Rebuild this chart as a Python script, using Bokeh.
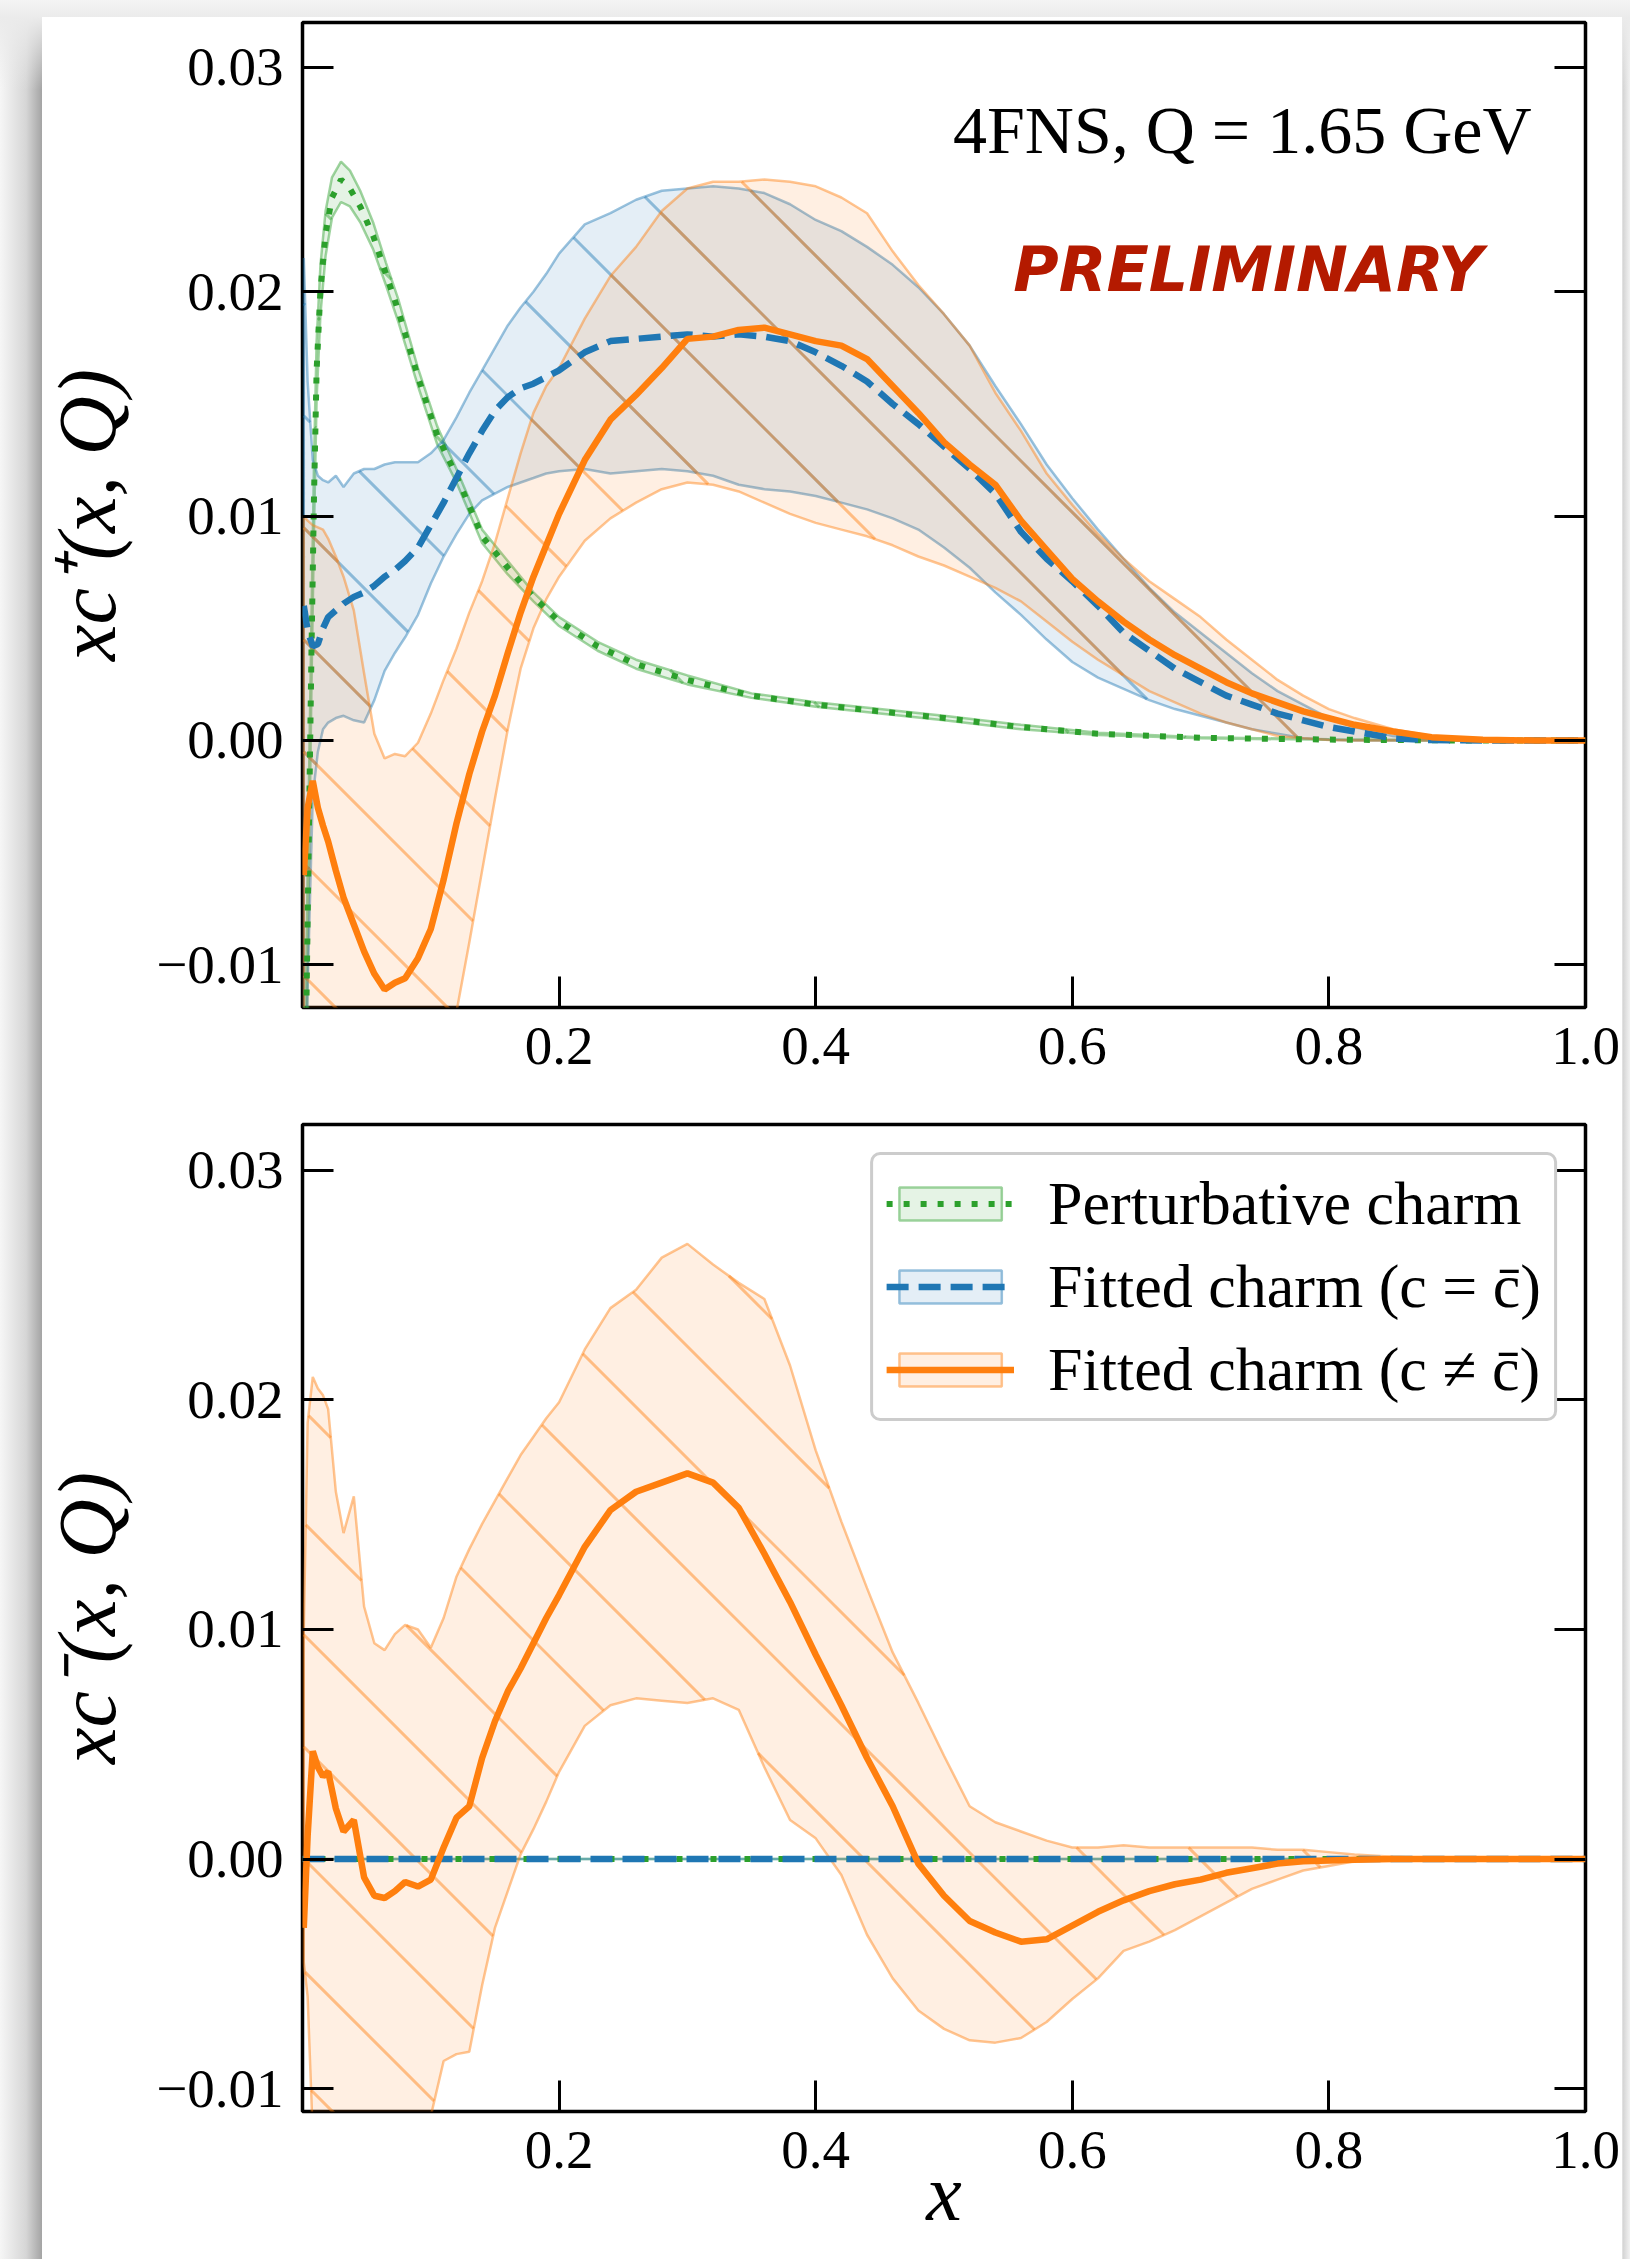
import numpy as np
from bokeh.plotting import figure
from bokeh.models import (Range1d, LinearAxis, FixedTicker, CustomJSTickFormatter,
                          Label, Legend, LegendItem)
from bokeh.layouts import column
from bokeh.embed import file_html
from bokeh.resources import INLINE

# ---------------- data ----------------
X_TICKS = [0.2, 0.4, 0.6, 0.8, 1.0]
Y_TICKS = [-0.01, 0.0, 0.01, 0.02, 0.03]

x_pert = [0.001, 0.003, 0.005, 0.007, 0.009, 0.011, 0.014, 0.018, 0.023, 0.03,
          0.037, 0.045, 0.055, 0.065, 0.075, 0.09, 0.105, 0.12, 0.14, 0.16,
          0.18, 0.2, 0.23, 0.26, 0.3, 0.35, 0.4, 0.45, 0.5, 0.56,
          0.62, 0.7, 0.8, 0.9, 1.0]
pert_cen = [-0.025, -0.012, -0.004, 0.004, 0.011, 0.0165, 0.0201, 0.0226, 0.0242, 0.0250,
            0.0246, 0.0238, 0.0225, 0.0208, 0.0191, 0.0162, 0.0136, 0.0118, 0.0091, 0.0077,
            0.0064, 0.0053, 0.0042, 0.0034, 0.0027, 0.0020, 0.0016, 0.0013, 0.0010, 0.0006,
            0.0003, 0.00012, 0.00004, 0.0, 0.0]
pert_hi = [-0.023, -0.010, -0.002, 0.0055, 0.0125, 0.0178, 0.0212, 0.0236, 0.0251, 0.0258,
           0.0254, 0.0245, 0.0231, 0.0213, 0.0196, 0.0166, 0.0140, 0.0121, 0.0094, 0.0080,
           0.0066, 0.0055, 0.0044, 0.0036, 0.0029, 0.0021, 0.0017, 0.0014, 0.0011, 0.0007,
           0.00035, 0.00015, 0.00005, 0.00001, 0.0]
pert_lo = [-0.027, -0.014, -0.006, 0.0025, 0.0095, 0.0152, 0.0190, 0.0216, 0.0233, 0.0240,
           0.0238, 0.0231, 0.0219, 0.0203, 0.0186, 0.0158, 0.0132, 0.0115, 0.0088, 0.0074,
           0.0062, 0.0051, 0.0040, 0.0032, 0.0025, 0.0019, 0.0015, 0.0012, 0.0009, 0.0005,
           0.00025, 0.0001, 0.00003, 0.0, 0.0]

x_fit = [0.001, 0.004, 0.008, 0.012, 0.016, 0.02,
         0.026, 0.032, 0.04, 0.048, 0.056, 0.064, 0.072, 0.08,
         0.09, 0.1, 0.11, 0.12, 0.13, 0.14, 0.15, 0.16, 0.17, 0.18, 0.19, 0.2,
         0.22, 0.24, 0.26, 0.28, 0.3, 0.32, 0.34, 0.36, 0.38, 0.4,
         0.42, 0.44, 0.46, 0.48, 0.5, 0.52, 0.54, 0.56, 0.58, 0.6,
         0.62, 0.64, 0.66, 0.68, 0.7, 0.72, 0.74, 0.76, 0.78, 0.8, 0.82,
         0.85, 0.88, 0.92, 0.96, 1.0]

# fitted charm, c = cbar  (xc+)
blue_cen = [0.0060, 0.0049, 0.0042, 0.0043, 0.0050, 0.0055,
            0.0058, 0.0061, 0.0064, 0.0066, 0.0069, 0.0073, 0.0076, 0.0080,
            0.0086, 0.0096, 0.0106, 0.0117, 0.0128, 0.0138, 0.0147, 0.0153, 0.0157, 0.0159, 0.0162, 0.0165,
            0.0173, 0.0178, 0.0179, 0.0180, 0.0181, 0.0180, 0.0181, 0.0180, 0.0178, 0.0173,
            0.0167, 0.0160, 0.0150, 0.0141, 0.0131, 0.0121, 0.0110, 0.0093, 0.0081, 0.0071,
            0.0060, 0.0048, 0.0040, 0.0032, 0.0026, 0.0020, 0.0016, 0.0012, 0.0009, 0.0006, 0.0004,
            0.0001, 0.00002, 0.0, 0.0, 0.0]
blue_hi = [0.0215, 0.0160, 0.0125, 0.0118, 0.0116, 0.0115,
           0.0118, 0.0113, 0.0119, 0.0121, 0.0121, 0.0123, 0.0124, 0.0124,
           0.0124, 0.0128, 0.0134, 0.0144, 0.0155, 0.0165, 0.0175, 0.0185, 0.0193, 0.0200, 0.0208, 0.0217,
           0.0230, 0.0235, 0.0241, 0.0245, 0.0246, 0.0247, 0.0246, 0.0244, 0.0239, 0.0232,
           0.0227, 0.0220, 0.0212, 0.0202, 0.0190, 0.0176, 0.0158, 0.0141, 0.0123, 0.0108,
           0.0094, 0.0081, 0.0068, 0.0057, 0.0048, 0.0039, 0.0030, 0.0022, 0.0016, 0.0010, 0.0006,
           0.0002, 0.00005, 0.0, 0.0, 0.0]
blue_lo = [-0.022, -0.011, -0.0025, -0.0005, 0.0005, 0.0008,
           0.0010, 0.0011, 0.0009, 0.0008, 0.0018, 0.0031, 0.0039, 0.0046,
           0.0056, 0.0070, 0.0082, 0.0092, 0.0101, 0.0107, 0.0110, 0.0113, 0.0115, 0.0117, 0.0119, 0.0120,
           0.0121, 0.0119, 0.0120, 0.0121, 0.0120, 0.0118, 0.0114, 0.0112, 0.0111, 0.0109,
           0.0106, 0.0103, 0.0099, 0.0094, 0.0086, 0.0077, 0.0066, 0.0056, 0.0045, 0.0035,
           0.0028, 0.0023, 0.0018, 0.0014, 0.0011, 0.0008, 0.0005, 0.0003, 0.0001, 0.00003, 0.0,
           0.0, 0.0, 0.0, 0.0, 0.0]

# fitted charm, c != cbar  (xc+)
orange_cen = [-0.0060, -0.0030, -0.0018, -0.0030, -0.0038, -0.0045,
              -0.0058, -0.0070, -0.0082, -0.0094, -0.0104, -0.0111, -0.0108, -0.0106,
              -0.0097, -0.0084, -0.0062, -0.0037, -0.0015, 0.0004, 0.0020, 0.0039, 0.0057, 0.0073, 0.0087, 0.0101,
              0.0125, 0.0143, 0.0154, 0.0166, 0.0179, 0.0180, 0.0183, 0.0184, 0.0181, 0.0178,
              0.0176, 0.0170, 0.0158, 0.0146, 0.0133, 0.0123, 0.0114, 0.0098, 0.0085, 0.0072,
              0.0062, 0.0053, 0.0045, 0.0038, 0.0032, 0.0026, 0.0021, 0.0017, 0.0013, 0.0010, 0.0007,
              0.0004, 0.00015, 0.00003, 0.0, 0.0]
orange_hi = [0.0100, 0.0098, 0.0096, 0.0095, 0.0094, 0.0090,
             0.0082, 0.0073, 0.0058, 0.0030, 0.0003, -0.0008, -0.0006, -0.0007,
             -0.0001, 0.0012, 0.0027, 0.0041, 0.0057, 0.0071, 0.0088, 0.0108, 0.0128, 0.0146, 0.0158, 0.0166,
             0.0188, 0.0207, 0.0220, 0.0236, 0.0246, 0.0249, 0.0249, 0.0250, 0.0249, 0.0247,
             0.0242, 0.0235, 0.0218, 0.0203, 0.0190, 0.0176, 0.0155, 0.0138, 0.0119, 0.0105,
             0.0092, 0.0081, 0.0071, 0.0063, 0.0055, 0.0045, 0.0036, 0.0027, 0.0020, 0.0014, 0.0010,
             0.0005, 0.0002, 0.00004, 0.0, 0.0]
orange_lo = [-0.030, -0.030, -0.030, -0.030, -0.030, -0.030,
             -0.030, -0.030, -0.030, -0.029, -0.028, -0.027, -0.026, -0.025,
             -0.022, -0.019, -0.0152, -0.0121, -0.0090, -0.0058, -0.0026, 0.0005, 0.0032, 0.0050, 0.0063, 0.0073,
             0.0089, 0.0099, 0.0106, 0.0112, 0.0115, 0.0114, 0.0111, 0.0106, 0.0101, 0.0097,
             0.0094, 0.0091, 0.0087, 0.0082, 0.0078, 0.0073, 0.0068, 0.0062, 0.0053, 0.0044,
             0.0036, 0.0029, 0.0022, 0.0017, 0.0012, 0.0008, 0.0005, 0.0002, 0.0001, 0.00002, 0.0,
             0.0, 0.0, 0.0, 0.0, 0.0]

# fitted charm, c != cbar  (xc-)
minus_cen = [-0.0030, 0.0010, 0.0047, 0.0040, 0.0036, 0.0038,
             0.0022, 0.0012, 0.0017, -0.0008, -0.0016, -0.0017, -0.0014, -0.0010,
             -0.0012, -0.0009, 0.0005, 0.0018, 0.0023, 0.0044, 0.0060, 0.0073, 0.0083, 0.0094, 0.0105, 0.0115,
             0.0136, 0.0152, 0.0160, 0.0164, 0.0168, 0.0164, 0.0153, 0.0133, 0.0112, 0.0089,
             0.0067, 0.0044, 0.0023, -0.0002, -0.0016, -0.0027, -0.0032, -0.0036, -0.0035, -0.0029,
             -0.0023, -0.0018, -0.0014, -0.0011, -0.0009, -0.0006, -0.0004, -0.0002, -0.0001, -0.00006, -0.00003,
             0.0, 0.0, 0.0, 0.0, 0.0]
minus_hi = [0.0100, 0.0190, 0.0210, 0.0205, 0.0202, 0.0196,
            0.0160, 0.0142, 0.0158, 0.0110, 0.0094, 0.0091, 0.0098, 0.0102,
            0.0100, 0.0092, 0.0105, 0.0123, 0.0135, 0.0146, 0.0156, 0.0166, 0.0176, 0.0184, 0.0192, 0.0199,
            0.0222, 0.0240, 0.0248, 0.0262, 0.0268, 0.0259, 0.0251, 0.0244, 0.0215, 0.0178,
            0.0147, 0.0118, 0.0090, 0.0068, 0.0045, 0.0023, 0.0016, 0.0012, 0.0008, 0.0005,
            0.0005, 0.0006, 0.0005, 0.0005, 0.0005, 0.0005, 0.0005, 0.0004, 0.0004, 0.0003, 0.0002,
            0.0001, 0.00003, 0.0, 0.0, 0.0]
minus_lo = [-0.0045, -0.0060, -0.0120, -0.0200, -0.0250, -0.0280,
            -0.030, -0.030, -0.030, -0.030, -0.029, -0.027, -0.025, -0.022,
            -0.017, -0.0112, -0.0088, -0.0085, -0.0084, -0.0055, -0.0030, -0.0014, 0.0002, 0.0013, 0.0025, 0.0038,
            0.0058, 0.0067, 0.0070, 0.0069, 0.0068, 0.0070, 0.0065, 0.0040, 0.0017, 0.0009,
            -0.0007, -0.0033, -0.0052, -0.0066, -0.0074, -0.0079, -0.0080, -0.0078, -0.0071, -0.0061,
            -0.0052, -0.0040, -0.0036, -0.0031, -0.0025, -0.0019, -0.0013, -0.0009, -0.0005, -0.0003, -0.0001,
            -0.00003, 0.0, 0.0, 0.0, 0.0]

# perturbative charm and c = cbar have xc- identically zero
x_zero = [0.0, 1.0]
zero_vals = [0.0, 0.0]

LABELS = ["Perturbative charm", "Fitted charm (c = c\u0304)", "Fitted charm (c \u2260 c\u0304)"]

# ---------------- styling ----------------
GREEN, BLUE, ORANGE = "#2ca02c", "#1f77b4", "#ff7f0e"
SERIF = "Liberation Serif"
FRAME_LEFT, FRAME_WIDTH = 302, 1283       # frame placement on the canvas (px)
HATCH_SPACING = 112                        # px between 45-degree hatch lines
FRAME_GEOM = {}                            # figure id -> (top px, height px, y0, y1)


def make_fig(height, y_start, min_top, min_bottom, ylabel):
    p = figure(width=1630, height=height, x_range=Range1d(0, 1), y_range=Range1d(y_start, 0.032),
               output_backend="svg", toolbar_location=None,
               min_border_left=FRAME_LEFT, min_border_right=1630 - FRAME_LEFT - FRAME_WIDTH,
               min_border_top=min_top, min_border_bottom=min_bottom)
    p.title.visible = False
    p.border_fill_color = None
    p.background_fill_color = "white"
    p.outline_line_color = "black"
    p.outline_line_width = 3.5
    p.grid.visible = False

    p.xaxis.ticker = FixedTicker(ticks=X_TICKS)
    p.xaxis.formatter = CustomJSTickFormatter(code="return tick.toFixed(1);")
    p.xaxis.major_label_standoff = 20
    p.yaxis.ticker = FixedTicker(ticks=Y_TICKS)
    p.yaxis.formatter = CustomJSTickFormatter(
        code="return (tick < -1e-9 ? '\u2212' : '') + Math.abs(tick).toFixed(2);")
    p.yaxis.major_label_standoff = 19
    p.yaxis.axis_label = ylabel
    p.yaxis.axis_label_standoff = 20
    p.yaxis.axis_label_text_font = SERIF
    p.yaxis.axis_label_text_font_style = "italic"
    p.yaxis.axis_label_text_font_size = "82px"
    p.yaxis.axis_label_text_color = "black"
    for ax in (p.xaxis[0], p.yaxis[0]):
        ax.axis_line_color = None
        ax.major_tick_in = 31
        ax.major_tick_out = 0
        ax.major_tick_line_width = 3
        ax.major_tick_line_color = "black"
        ax.minor_tick_line_color = None
        ax.major_label_text_font = SERIF
        ax.major_label_text_font_size = "55px"
        ax.major_label_text_color = "black"
    right = LinearAxis(ticker=FixedTicker(ticks=Y_TICKS), axis_line_color=None,
                       major_tick_in=31, major_tick_out=0, major_tick_line_width=3,
                       major_tick_line_color="black", minor_tick_line_color=None,
                       formatter=CustomJSTickFormatter(code="return '';"),
                       major_label_standoff=0)
    p.add_layout(right, "right")
    FRAME_GEOM[p.id] = (min_top, height - min_top - min_bottom, y_start, 0.032)
    return p


def hatch_segments(p, xs, lo, hi):
    """45-degree '\\' hatch lines (fixed screen spacing) clipped to the band lo..hi."""
    top, fh, y0, y1 = FRAME_GEOM[p.id]
    k = fh / (y1 - y0)                       # px per data unit (y)
    xf = np.linspace(xs[0], xs[-1], 5000)
    lof = np.interp(xf, xs, lo)
    hif = np.interp(xf, xs, hi)
    px = FRAME_LEFT + xf * FRAME_WIDTH
    seg_x, seg_y = [], []
    cmin = top - (FRAME_LEFT + FRAME_WIDTH) - HATCH_SPACING
    cmax = top + fh - FRAME_LEFT + HATCH_SPACING
    c = np.floor(cmin / HATCH_SPACING) * HATCH_SPACING
    while c <= cmax:
        py = px + c
        yl = y1 - (py - top) / k
        inside = (yl >= lof) & (yl <= hif)
        edges = np.flatnonzero(np.diff(np.concatenate([[0], inside.astype(int), [0]])))
        for a, b in zip(edges[::2], edges[1::2]):
            if b - a >= 2:
                seg_x.append([float(xf[a]), float(xf[b - 1])])
                seg_y.append([float(yl[a]), float(yl[b - 1])])
        c += HATCH_SPACING
    return seg_x, seg_y


def band(p, xs, lo, hi, color):
    r = p.patch(x=list(xs) + list(xs)[::-1], y=list(hi) + list(lo)[::-1],
                fill_color=color, fill_alpha=0.12,
                line_color=color, line_alpha=0.45, line_width=2.5)
    sx, sy = hatch_segments(p, xs, lo, hi)
    if sx:
        p.multi_line(sx, sy, line_color=color, line_alpha=0.45, line_width=3)
    # legend-only swatch carrying a hatch mark
    sw = p.patch(x=[], y=[], fill_alpha=0, line_alpha=0,
                 hatch_pattern="\\", hatch_color=color, hatch_alpha=0.45,
                 hatch_scale=224, hatch_weight=3)
    return r, sw


def lines(p, xg, yg, xb, yb, xo, yo):
    lg = p.line(xg, yg, line_color=GREEN, line_width=6, line_dash="6 11")
    lb = p.line(xb, yb, line_color=BLUE, line_width=6.5, line_dash="22 10")
    lo_ = p.line(xo, yo, line_color=ORANGE, line_width=6.5)
    return lg, lb, lo_


# ---------------- top panel: xc+ ----------------
p1 = make_fig(1107, -0.0119, 22, 100, "xc\u207a(x, Q)")
band(p1, x_pert, pert_lo, pert_hi, GREEN)
band(p1, x_fit, blue_lo, blue_hi, BLUE)
band(p1, x_fit, orange_lo, orange_hi, ORANGE)
lines(p1, x_pert, pert_cen, x_fit, blue_cen, x_fit, orange_cen)

p1.add_layout(Label(x=0.958, y=0.0272, text="4FNS, Q = 1.65 GeV", text_align="right",
                    text_baseline="alphabetic", text_font=SERIF, text_font_size="68px",
                    text_color="black"))
p1.add_layout(Label(x=0.737, y=0.0210, text="PRELIMINARY", text_align="center",
                    text_baseline="alphabetic", text_font="DejaVu Sans",
                    text_font_style="bold italic", text_font_size="62px",
                    text_color="#b41a00"))

# ---------------- bottom panel: xc- ----------------
p2 = make_fig(1152, -0.011, 17, 148, "xc\u207b(x, Q)")
gb, gsw = band(p2, x_zero, zero_vals, zero_vals, GREEN)
bb, bsw = band(p2, x_zero, zero_vals, zero_vals, BLUE)
ob, osw = band(p2, x_fit, minus_lo, minus_hi, ORANGE)
gl, bl, ol = lines(p2, x_zero, zero_vals, x_zero, zero_vals, x_fit, minus_cen)

p2.xaxis.axis_label = "x"
p2.xaxis.axis_label_text_font = SERIF
p2.xaxis.axis_label_text_font_style = "italic"
p2.xaxis.axis_label_text_font_size = "80px"
p2.xaxis.axis_label_text_color = "black"
p2.xaxis.axis_label_standoff = -22

legend = Legend(items=[LegendItem(label=LABELS[0], renderers=[gb, gsw, gl]),
                       LegendItem(label=LABELS[1], renderers=[bb, bsw, bl]),
                       LegendItem(label=LABELS[2], renderers=[ob, osw, ol])],
                location="top_right")
legend.label_text_font = SERIF
legend.label_text_font_size = "62px"
legend.label_text_color = "black"
legend.glyph_width = 128
legend.glyph_height = 41
legend.label_height = 41
legend.label_standoff = 34
legend.padding = 13
legend.spacing = 12
legend.margin = 28
legend.border_line_color = "#cccccc"
legend.border_line_width = 3
legend.border_line_alpha = 1.0
legend.background_fill_color = "white"
legend.background_fill_alpha = 0.8
if "border_radius" in Legend.properties():
    legend.border_radius = 10
p2.add_layout(legend)

page_bg = {
    "background-color": "#ffffff",
    "background-image": ("linear-gradient(#ffffff, #ffffff), "
                         "linear-gradient(to bottom, #f4f4f4 0px, #ebebeb 17px, rgba(255,255,255,0) 90px), "
                         "linear-gradient(to right, #f6f6f6 0px, #d6d6d6 26px, #a4a4a4 42px, #eeeeee 42px, "
                         "#eeeeee 1622px, #d4d4d4 1623px, #f2f2f2 1630px)"),
    "background-size": "1580px 2242px, 100% 100%, 100% 100%",
    "background-position": "42px 17px, 0px 0px, 0px 0px",
    "background-repeat": "no-repeat",
}
layout = column(p1, p2, styles=page_bg)

with open("out.html", "w") as f:
    f.write(file_html(layout, INLINE))
